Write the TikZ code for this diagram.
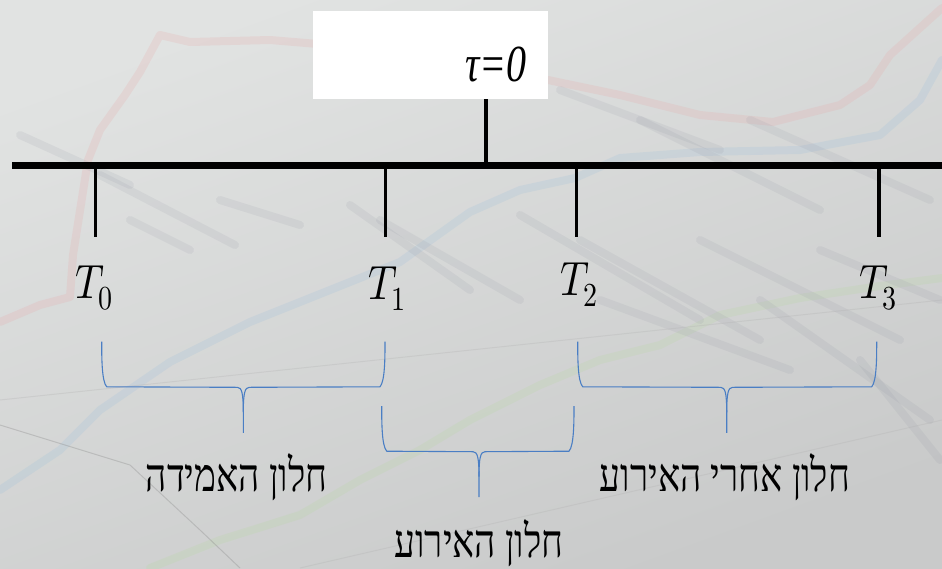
\documentclass[tikz,border=0pt]{standalone}
\usepackage{fontspec}
\usepackage{unicode-math}
\setmainfont{Liberation Serif}
\setmathfont{Latin Modern Math}
\newfontfamily\hebfont[Script=Hebrew]{Liberation Serif}
\TeXXeTstate=1
\definecolor{bgtop}{HTML}{E1E3E2}
\definecolor{bgbot}{HTML}{C9CACA}
\definecolor{bracecol}{HTML}{4A7EC4}
\definecolor{chartred}{HTML}{E8A8A8}
\definecolor{chartblue}{HTML}{9CC0DC}
\definecolor{chartgreen}{HTML}{B8D8A0}
\definecolor{chartbar}{HTML}{8A8E9E}
\tikzset{
  axis/.style={line width=7pt, black},
  tickline/.style={line width=3.3pt, black},
  bracepath/.style={line width=1.1pt, bracecol, line join=round},
  tlabel/.style={anchor=base, inner sep=0pt, font=\fontsize{40}{44}\selectfont},
  heblabel/.style={anchor=base, inner sep=0pt, font=\fontsize{37}{42}\selectfont\hebfont},
  chart/.style={line width=8pt, opacity=0.22, line cap=round, line join=round},
  bar/.style={line width=8pt, chartbar, opacity=0.12, line cap=round},
}
\newcommand{\hbrace}[5]{% x1, x2, tipx, top, h
  \draw[bracepath] (#1,#4) .. controls (#1,#5-30) and (#1,#5-6) .. (#1+5,#5-0.5)
    -- (#3-6,#5) .. controls (#3-1.5,#5) and (#3,#5+6) .. (#3,#5+25) -- (#3,#5+45.5);
  \draw[bracepath] (#2,#4) .. controls (#2,#5-30) and (#2,#5-6) .. (#2-5,#5-0.5)
    -- (#3+6,#5) .. controls (#3+1.5,#5) and (#3,#5+6) .. (#3,#5+25);
}
\begin{document}
\begin{tikzpicture}[x=1pt,y=-1pt]
\useasboundingbox (0,0) rectangle (942,568);
% background
\shade[top color=bgtop, bottom color=bgbot, shading angle=20] (0,0) rectangle (942,568);
% faint chart decorations
\draw[chart, chartred] (0,322) -- (40,305) -- (70,297) -- (73,255) -- (88,160) -- (100,130) -- (125,95) -- (140,72) -- (160,35) -- (190,42) -- (270,40) -- (330,45);
\draw[chart, chartred] (548,80) -- (620,95) -- (700,115) -- (773,122) -- (840,105) -- (870,85) -- (890,55) -- (942,8);
\draw[chart, chartblue] (0,490) -- (60,450) -- (100,410) -- (170,362) -- (250,322) -- (330,290) -- (400,262) -- (470,212) -- (520,190) -- (575,178) -- (620,158) -- (700,152) -- (800,150) -- (880,135) -- (920,100) -- (942,60);
\draw[chart, chartgreen] (150,568) -- (220,540) -- (300,515) -- (360,480) -- (420,450) -- (470,420) -- (540,385) -- (600,360) -- (660,345) -- (720,315) -- (800,298) -- (880,286) -- (942,278);
\foreach \a/\b in {{20,135}/{130,185},{100,175}/{235,245},{220,200}/{300,225},{130,220}/{190,250},{350,205}/{470,290},{380,220}/{520,300},{520,215}/{700,320},{580,240}/{760,340},{600,300}/{790,370},{700,240}/{900,340},{760,300}/{930,420},{820,250}/{940,300},{860,360}/{940,460},{640,120}/{820,210},{560,90}/{720,150},{750,120}/{930,200}}{
  \draw[bar] (\a) -- (\b);
}
\draw[line width=1pt, black!45, opacity=0.35] (0,425) -- (130,465) -- (200,530) -- (240,568);
\draw[line width=1pt, black!30, opacity=0.3] (0,400) -- (942,300);
\draw[line width=1pt, black!30, opacity=0.3] (300,568) -- (942,420);
% tau box
\node[fill=white, draw=none, minimum width=235pt, minimum height=88pt, inner sep=0pt] (box) at (430.5,55) {};
\node[anchor=base east, inner sep=0pt, font=\fontsize{40}{44}\selectfont\itshape] (taulab) at (527,81) {\scalebox{1}[1.3]{τ=0}};
% axis
\coordinate (axL) at (12,165.7);
\coordinate (axR) at (942,165.7);
\coordinate (stemtop) at (486,99);
\coordinate (stembot) at (486,163);
\draw[axis] (axL) -- (axR);
\draw[line width=3.5pt] (stemtop) -- (stembot);
% ticks
\foreach \n/\x in {0/95.7,1/385.7,2/576.7,3/879}{
  \coordinate (tt\n) at (\x,168);
  \coordinate (tb\n) at (\x,236.5);
  \draw[tickline] (tt\n) -- (tb\n);
}
% T labels
\node[tlabel] (T0) at (94,298) {\scalebox{1}[1.2]{$T_0$}};
\node[tlabel] (T1) at (387,299) {\scalebox{1}[1.2]{$T_1$}};
\node[tlabel] (T2) at (579,295) {\scalebox{1}[1.2]{$T_2$}};
\node[tlabel] (T3) at (878,298) {\scalebox{1}[1.2]{$T_3$}};
% braces
\hbrace{101.7}{385}{243.3}{341.7}{387.3}
\hbrace{381.7}{574}{479}{406}{451.7}
\hbrace{577.7}{876.7}{726.7}{341.7}{387.3}
% Hebrew labels
\node[heblabel] (win1) at (236.7,491) {\scalebox{1}[1.25]{\beginR חלון האמידה\endR}};
\node[heblabel] (win2) at (725,491) {\scalebox{1}[1.25]{\beginR חלון אחרי האירוע\endR}};
\node[heblabel] (win3) at (479,557) {\scalebox{1}[1.25]{\beginR חלון האירוע\endR}};
\end{tikzpicture}
\end{document}
